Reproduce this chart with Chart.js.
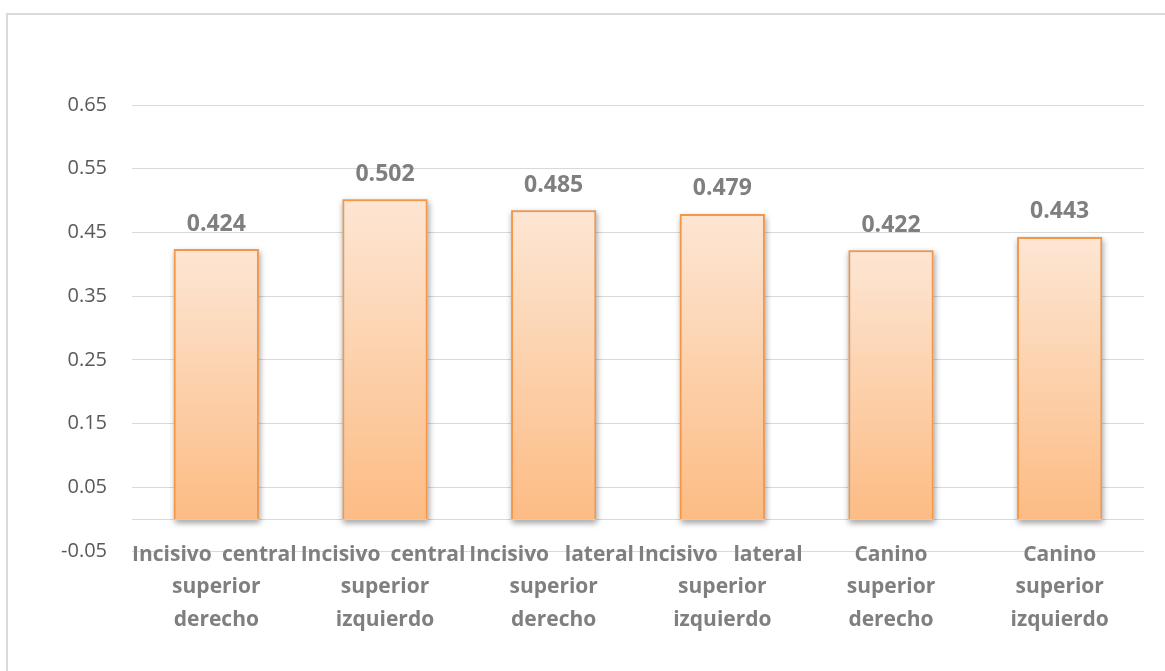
<!DOCTYPE html>
<html>
<head>
<meta charset="utf-8">
<script src="https://cdn.jsdelivr.net/npm/chart.js@4.4.1/dist/chart.umd.min.js"></script>
<style>
  html, body { margin: 0; padding: 0; background: #fff; }
  #wrap { width: 1165px; height: 671px; position: relative; }
</style>
</head>
<body>
<div id="wrap"><canvas id="grafico"></canvas></div>
<script>
// Datos
const categorias = [
    ['Incisivo central', 'superior', 'derecho'],
    ['Incisivo central', 'superior', 'izquierdo'],
    ['Incisivo lateral', 'superior', 'derecho'],
    ['Incisivo lateral', 'superior', 'izquierdo'],
    ['Canino', 'superior', 'derecho'],
    ['Canino', 'superior', 'izquierdo']
];
const valores = [0.424, 0.502, 0.485, 0.479, 0.422, 0.443];
const ticksY = [-0.05, 0.05, 0.15, 0.25, 0.35, 0.45, 0.55, 0.65];

// Marco exterior, línea del cero, sombra, etiquetas de valor y de categoría
const decoracion = {
    id: 'decoracion',
    beforeDraw(chart) {
        const ctx = chart.ctx;
        ctx.save();
        ctx.strokeStyle = '#d9d9d9';
        ctx.lineWidth = 2;
        ctx.strokeRect(7, 14, 1200, 700);
        ctx.restore();
    },
    beforeDatasetsDraw(chart) {
        const ctx = chart.ctx;
        const y0 = Math.round(chart.scales.y.getPixelForValue(0)) + 0.5;
        ctx.save();
        ctx.strokeStyle = '#d9d9d9';
        ctx.lineWidth = 1;
        ctx.beginPath();
        ctx.moveTo(chart.chartArea.left, y0);
        ctx.lineTo(chart.chartArea.right, y0);
        ctx.stroke();
        ctx.restore();

        // sombra bajo cada barra (la barra la tapa por encima)
        ctx.save();
        ctx.shadowColor = 'rgba(0,0,0,0.38)';
        ctx.shadowBlur = 6;
        ctx.shadowOffsetY = 3;
        ctx.shadowOffsetX = 1;
        ctx.fillStyle = '#d0d0d0';
        chart.getDatasetMeta(0).data.forEach(bar => {
            ctx.fillRect(bar.x - bar.width / 2, bar.y, bar.width, bar.base - bar.y + 1);
        });
        ctx.restore();
    },
    afterDatasetsDraw(chart) {
        const ctx = chart.ctx;
        const meta = chart.getDatasetMeta(0);
        ctx.save();
        ctx.font = 'bold 23px "Open Sans"';
        ctx.fillStyle = '#7f7f7f';
        ctx.textAlign = 'center';
        ctx.textBaseline = 'middle';
        meta.data.forEach((bar, i) => {
            ctx.fillText(valores[i].toFixed(3), bar.x, bar.y - 25);
        });

        // etiquetas de categoría (primera línea justificada, como en Excel)
        const x = chart.scales.x;
        const ancho = x.getPixelForTick(1) - x.getPixelForTick(0);
        ctx.font = 'bold 21px "Open Sans"';
        categorias.forEach((lineas, i) => {
            const cx = x.getPixelForTick(i);
            lineas.forEach((txt, j) => {
                const y = chart.chartArea.bottom + 4 + j * 32.5;
                const palabras = txt.split(' ');
                if (palabras.length === 2) {
                    ctx.textAlign = 'left';
                    ctx.fillText(palabras[0], cx - ancho / 2, y);
                    ctx.textAlign = 'right';
                    ctx.fillText(palabras[1], cx + ancho / 2 - 4, y);
                } else {
                    ctx.textAlign = 'center';
                    ctx.fillText(txt, cx, y);
                }
            });
        });
        ctx.restore();
    }
};

const ctx = document.getElementById('grafico').getContext('2d');
new Chart(ctx, {
    type: 'bar',
    data: {
        labels: categorias,
        datasets: [{
            data: valores,
            backgroundColor: function(c) {
                const chart = c.chart;
                if (!chart.chartArea || c.raw === undefined) return '#fcc18c';
                const y = chart.scales.y;
                const top = y.getPixelForValue(c.raw);
                const base = y.getPixelForValue(0);
                const g = chart.ctx.createLinearGradient(0, top, 0, base);
                g.addColorStop(0, '#fde6d4');
                g.addColorStop(1, '#fcbc84');
                return g;
            },
            borderColor: '#f79646',
            borderWidth: { top: 2, left: 2, right: 2, bottom: 0 },
            barPercentage: 0.505,
            categoryPercentage: 1
        }]
    },
    options: {
        responsive: true,
        maintainAspectRatio: false,
        animation: false,
        layout: { padding: { top: 105, right: 21, left: 0, bottom: 0 } },
        plugins: { legend: { display: false }, tooltip: { enabled: false } },
        scales: {
            x: {
                grid: { display: false, drawTicks: false },
                border: { display: false },
                afterFit: s => { s.height = 120; },
                ticks: { display: false }
            },
            y: {
                min: -0.05,
                max: 0.65,
                afterBuildTicks: s => { s.ticks = ticksY.map(v => ({ value: v })); },
                afterFit: s => { s.width = 132; },
                grid: { color: '#d9d9d9', drawTicks: false },
                border: { display: false },
                ticks: {
                    color: '#595959',
                    font: { family: 'Open Sans', size: 20 },
                    padding: 25,
                    callback: v => v.toFixed(2)
                }
            }
        }
    },
    plugins: [decoracion]
});
</script>
</body>
</html>
